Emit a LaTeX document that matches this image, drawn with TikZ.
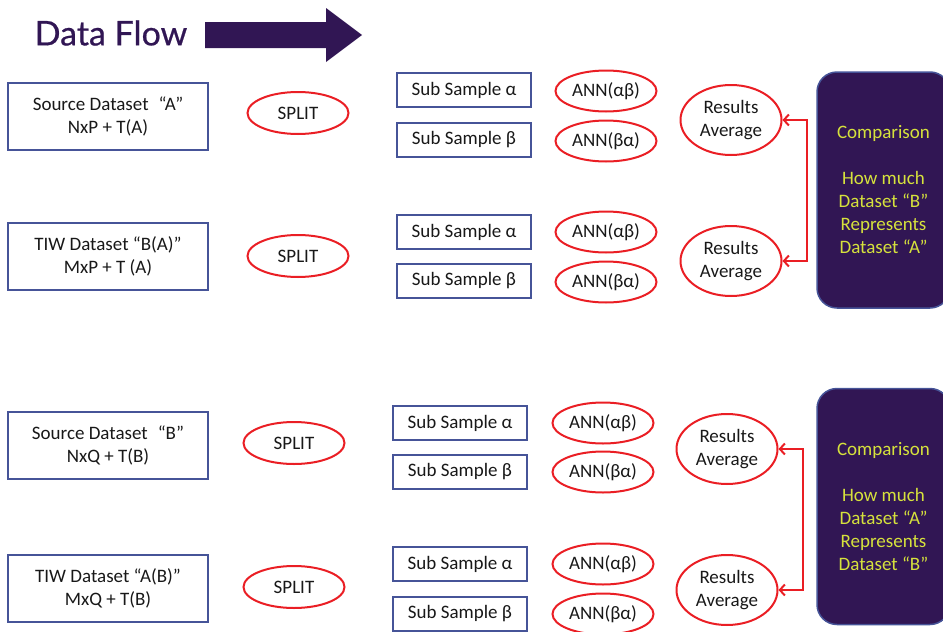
\documentclass[tikz,border=0pt]{standalone}
\usepackage{fontspec}
\setmainfont{Carlito}
\newfontfamily\titlefont[FakeBold=0.6]{Lato}
\usetikzlibrary{shapes.geometric,arrows.meta}
\definecolor{morado}{RGB}{49,22,84}
\definecolor{amarillo}{RGB}{214,226,60}
\definecolor{azul}{RGB}{70,84,152}
\definecolor{rojo}{RGB}{234,30,36}
\definecolor{texto}{RGB}{24,24,24}
\begin{document}
\begin{tikzpicture}[x=1pt,y=-1pt,
  every node/.style={font=\fontsize{19}{23}\selectfont,align=center,inner sep=0pt,text=texto},
  caja/.style={draw=azul,line width=2pt,minimum width=200pt,minimum height=67pt},
  sub/.style={draw=azul,line width=2pt,minimum width=134pt,minimum height=34pt},
  oval/.style={ellipse,draw=rojo,line width=2pt,minimum width=101pt,minimum height=42pt},
  prom/.style={ellipse,draw=rojo,line width=2pt,minimum width=101pt,minimum height=70pt},
  comp/.style={fill=morado,draw=azul,line width=1.5pt,rounded corners=20pt,
    minimum width=133pt,minimum height=236pt,text=amarillo},
  flechaRoja/.style={draw=rojo,line width=2pt,>={Straight Barb[length=5pt,width=11pt]},<->}]
  \useasboundingbox (0,0) rectangle (943,632);
  \clip (0,0) rectangle (943,632);

  % Título
  \node[text=morado,font=\titlefont\fontsize{34}{34}\selectfont] (titulo) at (111, 33) {Data Flow};
  \fill[morado] (205,22) -- (326,22) -- (326,8) -- (362,35) -- (326,62) -- (326,48) -- (205,48) -- cycle;

  % Conjunto A
  \node[caja] (srcA) at (108, 116) {Source Dataset\hspace{10pt}“A”\\NxP + T(A)};
  \node[oval] (splA) at (298, 113) {SPLIT};
  \node[sub] (saA) at (464, 90) {Sub Sample α};
  \node[sub] (sbA) at (464, 140) {Sub Sample β};
  \node[oval,minimum height=41pt] (annaA) at (606, 91) {ANN(αβ)};
  \node[oval,minimum height=41pt] (annbA) at (606, 141) {ANN(βα)};
  \node[prom] (resA) at (731, 120) {Results\\Average};

  \node[caja] (tiwA) at (108, 256) {TIW Dataset “B(A)”\\MxP + T (A)};
  \node[oval] (splB) at (298, 256) {SPLIT};
  \node[sub] (saB) at (464, 232) {Sub Sample α};
  \node[sub] (sbB) at (464, 281) {Sub Sample β};
  \node[oval,minimum height=41pt] (annaB) at (606, 232) {ANN(αβ)};
  \node[oval,minimum height=41pt] (annbB) at (606, 282) {ANN(βα)};
  \node[prom] (resB) at (731, 261) {Results\\Average};

  \node[comp] (compA) at (883.5, 190) {Comparison\\[23pt]How much\\Dataset “B”\\Represents\\Dataset “A”};

  % Conjunto B
  \node[caja] (srcB) at (108, 445.5) {Source Dataset\hspace{10pt}“B”\\NxQ + T(B)};
  \node[oval] (splC) at (294, 443) {SPLIT};
  \node[sub] (saC) at (460, 423) {Sub Sample α};
  \node[sub] (sbC) at (460, 472) {Sub Sample β};
  \node[oval,minimum height=41pt] (annaC) at (603, 423) {ANN(αβ)};
  \node[oval,minimum height=41pt] (annbC) at (603, 472) {ANN(βα)};
  \node[prom] (resC) at (727, 449) {Results\\Average};

  \node[caja] (tiwB) at (108, 588) {TIW Dataset “A(B)”\\MxQ + T(B)};
  \node[oval] (splD) at (294, 587) {SPLIT};
  \node[sub] (saD) at (460, 564) {Sub Sample α};
  \node[sub] (sbD) at (460, 614) {Sub Sample β};
  \node[oval,minimum height=41pt] (annaD) at (603, 564) {ANN(αβ)};
  \node[oval,minimum height=41pt] (annbD) at (603, 614) {ANN(βα)};
  \node[prom] (resD) at (727, 590) {Results\\Average};

  \node[comp] (compB) at (883.5, 506.5) {Comparison\\[23pt]How much\\Dataset “A”\\Represents\\Dataset “B”};

  % Flechas
  \foreach \from/\to in {resA/resB, resC/resD}
    \draw[flechaRoja] (\from.east) -- ++(24,0) |- (\to.east);
\end{tikzpicture}
\end{document}
